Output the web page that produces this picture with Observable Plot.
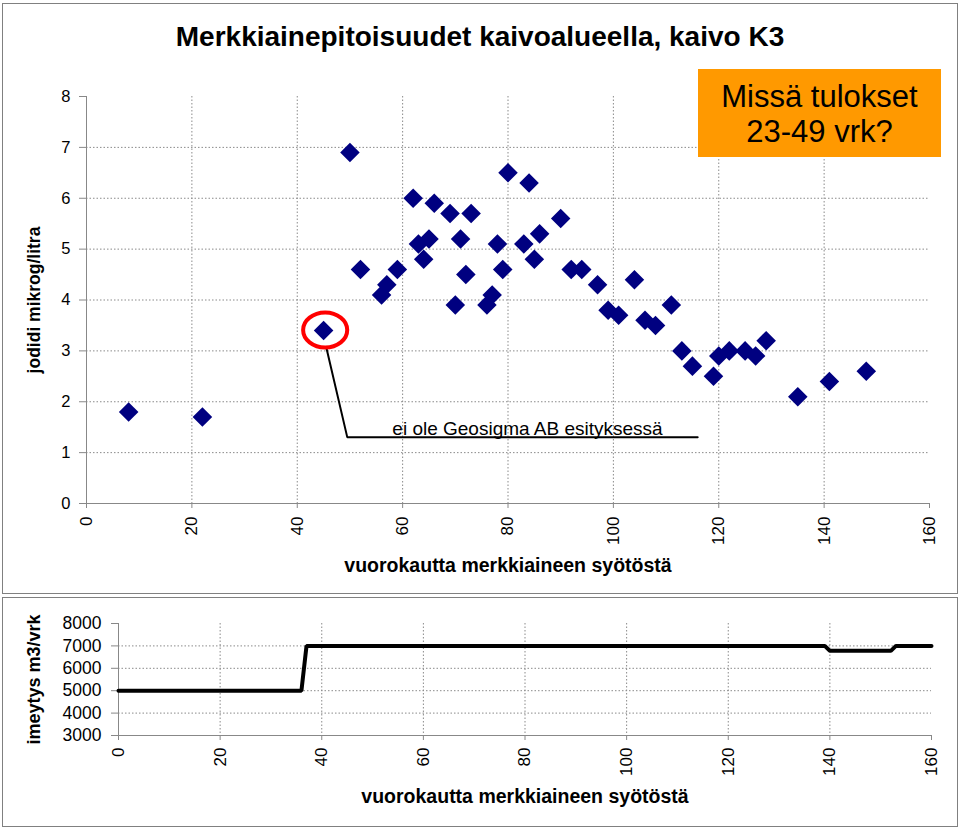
<!DOCTYPE html>
<html>
<head>
<meta charset="utf-8">
<script src="https://cdn.jsdelivr.net/npm/d3@7"></script>
<script src="https://cdn.jsdelivr.net/npm/@observablehq/plot@0.6"></script>
<style>
  body { margin: 0; background: #fff; font-family: "Liberation Sans", Arial, sans-serif; }
  #wrap { position: relative; width: 960px; height: 829px; overflow: hidden; background: #fff; }
  .panel { position: absolute; border: 1px solid #808080; box-sizing: border-box; }
  #topPanel { left: 2px; top: 3px; width: 956px; height: 591px; }
  #botPanel { left: 2px; top: 597px; width: 956px; height: 230px; }
  .chart { position: absolute; left: 0; }
  #title { position: absolute; left: 0; top: 23px; width: 960px; text-align: center;
           font-size: 28px; line-height: 28px; font-weight: bold; color: #000; }
  #note { position: absolute; left: 698px; top: 69px; width: 243px; height: 88px;
          background: #FF9900; box-sizing: border-box; padding-top: 10px;
          font-size: 31px; line-height: 35px; text-align: center; color: #000; }
</style>
</head>
<body>
<div id="wrap">
  <div class="panel" id="topPanel"></div>
  <div class="panel" id="botPanel"></div>
  <div class="chart" id="topChart" style="top:0"></div>
  <div class="chart" id="botChart" style="top:597px"></div>
  <div id="title">Merkkiainepitoisuudet kaivoalueella, kaivo K3</div>
  <div id="note">Missä tulokset<br>23-49 vrk?</div>
</div>
<script>
// ---- Data: iodide concentration (top chart)
const days = [8,22,45,50,52,56,57,59,62,63,64,65,66,69,70,71,72,73,76,77,78,79,80,83,84,85,86,90,92,94,97,99,101,104,106,108,111,113,115,119,120,122,125,127,129,135,141,148];
const iodide = [1.8,1.7,3.4,6.9,4.6,4.1,4.3,4.6,6.0,5.1,4.8,5.2,5.9,5.7,3.9,5.2,4.5,5.7,3.9,4.1,5.1,4.6,6.5,5.1,6.3,4.8,5.3,5.6,4.6,4.6,4.3,3.8,3.7,4.4,3.6,3.5,3.9,3.0,2.7,2.5,2.9,3.0,3.0,2.9,3.2,2.1,2.4,2.6];

// ---- Annotation (circled point and leader line)
const circledDay = [45.3];
const circledValue = [3.41];
const leaderDays = [45.55, 49.5, 116];
const leaderValues = [3.05, 1.30, 1.30];
const noteDay = [83.7];
const noteValue = [1.34];
const noteText = ["ei ole Geosigma AB esityksessä"];

// ---- Data: infiltration (bottom chart)
const flowDays = [0, 36, 37, 139, 140, 152, 153, 160];
const flowRate = [5000, 5000, 7000, 7000, 6780, 6780, 7000, 7000];

// ---- Tick labels
const topYTicks = [0,1,2,3,4,5,6,7,8];
const topGridY = [1,2,3,4,5,6,7];
const xTicks = [0,20,40,60,80,100,120,140,160];
const gridX = [20,40,60,80,100,120,140];
const botYTicks = [3000,4000,5000,6000,7000,8000];
const botGridY = [4000,5000,6000,7000];

const xLabel = "vuorokautta merkkiaineen syötöstä";
const topYLabel = "jodidi mikrog/litra";
const botYLabel = "imeytys m3/vrk";

const font = "Liberation Sans, Arial, sans-serif";
const gridStyle = {stroke: "#8a8a8a", strokeOpacity: 1, strokeDasharray: "1.5,2", strokeWidth: 1};

const ellipse = {
  draw(ctx, size) {
    const ry = Math.sqrt(size / Math.PI), rx = ry * 1.26, k = 0.5523;
    ctx.moveTo(rx, 0);
    ctx.bezierCurveTo(rx, ry * k, rx * k, ry, 0, ry);
    ctx.bezierCurveTo(-rx * k, ry, -rx, ry * k, -rx, 0);
    ctx.bezierCurveTo(-rx, -ry * k, -rx * k, -ry, 0, -ry);
    ctx.bezierCurveTo(rx * k, -ry, rx, -ry * k, rx, 0);
    ctx.closePath();
  }
};

const pts = days.map((d, i) => ({day: d, value: iodide[i]}));
const leader = leaderDays.map((d, i) => ({day: d, value: leaderValues[i]}));
const circled = circledDay.map((d, i) => ({day: d, value: circledValue[i]}));
const note = noteDay.map((d, i) => ({day: d, value: noteValue[i], text: noteText[i]}));

const topPlot = Plot.plot({
  width: 960,
  height: 595,
  marginTop: 96,
  marginBottom: 92,
  marginLeft: 86,
  marginRight: 31,
  style: {fontFamily: font, fontSize: "17px", background: "transparent", overflow: "visible", color: "black"},
  x: {domain: [0, 160]},
  y: {domain: [0, 8]},
  marks: [
    Plot.gridY(topGridY, gridStyle),
    Plot.gridX(gridX, gridStyle),
    Plot.ruleY([0], {stroke: "#888"}),
    Plot.ruleX([0], {stroke: "#888"}),
    Plot.axisY(topYTicks, {tickSize: 7, tickPadding: 9, stroke: "#888", fill: "black", fontSize: 16.5, label: null, tickFormat: d => String(d)}),
    Plot.axisX(xTicks, {tickSize: 5, tickPadding: 8, tickRotate: -90, stroke: "#888", fill: "black", fontSize: 17, label: null, tickFormat: d => String(d)}),
    Plot.text([topYLabel], {frameAnchor: "left", textAnchor: "middle", rotate: -90, dx: -52, fontSize: 17.5, fontWeight: "bold", fill: "black"}),
    Plot.text([xLabel], {frameAnchor: "bottom", textAnchor: "middle", dy: 68, lineAnchor: "bottom", fontSize: 19.5, fontWeight: "bold", fill: "black"}),
    Plot.line(leader, {x: "day", y: "value", stroke: "black", strokeWidth: 2, strokeLinejoin: "miter"}),
    Plot.text(note, {x: "day", y: "value", text: "text", lineAnchor: "bottom", fontSize: 19, fill: "black"}),
    Plot.dot(pts, {x: "day", y: "value", symbol: "diamond2", r: 8.8, fill: "#000080"}),
    Plot.dot(circled, {x: "day", y: "value", symbol: ellipse, r: 17.5, fill: "none", stroke: "#FF0000", strokeWidth: 4})
  ]
});
document.getElementById("topChart").appendChild(topPlot);

const flow = flowDays.map((d, i) => ({day: d, rate: flowRate[i]}));
const botPlot = Plot.plot({
  width: 960,
  height: 232,
  marginTop: 26,
  marginBottom: 94,
  marginLeft: 118,
  marginRight: 29,
  style: {fontFamily: font, fontSize: "17px", background: "transparent", overflow: "visible", color: "black"},
  x: {domain: [0, 160]},
  y: {domain: [3000, 8000]},
  marks: [
    Plot.gridY(botGridY, gridStyle),
    Plot.gridX(gridX, gridStyle),
    Plot.ruleY([3000], {stroke: "#888"}),
    Plot.ruleX([0], {stroke: "#888"}),
    Plot.axisY(botYTicks, {tickSize: 7, tickPadding: 10, stroke: "#888", fill: "black", fontSize: 17.5, label: null, tickFormat: d => String(d)}),
    Plot.axisX(xTicks, {tickSize: 5, tickPadding: 7, tickRotate: -90, stroke: "#888", fill: "black", fontSize: 17, label: null, tickFormat: d => String(d)}),
    Plot.text([botYLabel], {frameAnchor: "left", textAnchor: "middle", rotate: -90, dx: -84, fontSize: 18, fontWeight: "bold", fill: "black"}),
    Plot.text([xLabel], {frameAnchor: "bottom", textAnchor: "middle", dy: 67, lineAnchor: "bottom", fontSize: 19.5, fontWeight: "bold", fill: "black"}),
    Plot.line(flow, {x: "day", y: "rate", stroke: "black", strokeWidth: 4, strokeLinejoin: "miter"})
  ]
});
document.getElementById("botChart").appendChild(botPlot);
</script>
</body>
</html>
